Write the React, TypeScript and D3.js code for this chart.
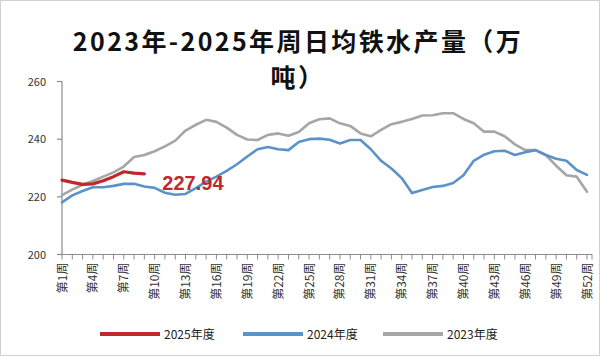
import React from "react";
import * as d3 from "d3";

const weeks: number[] = Array.from({ length: 52 }, (_, i) => i + 1);
const tickLabelWeeks = [1, 4, 7, 10, 13, 16, 19, 22, 25, 28, 31, 34, 37, 40, 43, 46, 49, 52];
const yTicks = [200, 220, 240, 260];

const series2025 = [225.8, 225.0, 224.3, 224.5, 225.6, 227.0, 228.7, 228.2, 227.94];
const series2024 = [
  218.1, 220.5, 222.0, 223.3, 223.3, 223.8, 224.5, 224.5, 223.6, 223.1,
  221.4, 220.7, 221.0, 223.0, 225.3, 227.0, 229.0, 231.3, 234.0, 236.5,
  237.3, 236.5, 236.2, 239.0, 240.0, 240.2, 239.8, 238.5, 239.7, 239.7,
  236.5, 232.5, 229.8, 226.5, 221.3, 222.4, 223.4, 223.8, 224.8, 227.5,
  232.5, 234.6, 235.8, 236.0, 234.5, 235.5, 236.2, 234.5, 233.2, 232.5,
  229.3, 227.6,
];
const series2023 = [
  220.6, 222.5, 224.2, 225.5, 227.0, 228.5, 230.5, 233.8, 234.5, 235.8,
  237.5, 239.5, 243.0, 245.0, 246.7, 246.0, 244.0, 241.5, 239.9, 239.7,
  241.5, 242.0, 241.2, 242.5, 245.5, 246.9, 247.2, 245.5, 244.6, 242.0,
  241.0, 243.2, 245.2, 246.0, 247.0, 248.2, 248.3, 249.0, 249.0, 247.0,
  245.5, 242.6, 242.6, 241.0, 238.2, 236.2, 236.2, 234.5, 230.8, 227.5,
  227.0, 221.8,
];
const seriesNames = ["2025年度", "2024年度", "2023年度"];
const seriesColors = ["#c0282d", "#5b93c9", "#a6a6a6"];
const lastLabel = "227.94";
const titleLines = ["2023年-2025年周日均铁水产量（万", "吨）"];

export default function App() {
  const W = 600, H = 356;
  const x = d3.scaleLinear().domain([1, 52]).range([62, 587]);
  const y = d3.scaleLinear().domain([200, 260]).range([254.5, 81.5]);
  const line = d3
    .line<number>()
    .x((_, i) => x(i + 1))
    .y((d) => y(d))
    .curve(d3.curveLinear);
  const all = [series2025, series2024, series2023];
  const axisColor = "#8c8c8c";
  const font = "'Noto Sans CJK SC', 'Noto Sans', sans-serif";
  const legendX = [100, 243, 383];

  return (
    <svg
      width={W}
      height={H}
      style={{ position: "absolute", left: 0, top: 0, background: "#fff" }}
      fontFamily={font}
    >
      <rect x={0.5} y={0.5} width={W - 1} height={H - 1} fill="#fff" stroke="#d0d0d0" />
      {titleLines.map((t, i) => (
        <text
          key={i}
          x={298}
          y={51 + i * 36}
          textAnchor="middle"
          fontSize={25}
          fontWeight={700}
          letterSpacing={2.4}
          fill="#111"
        >
          {t}
        </text>
      ))}
      {/* y axis */}
      <line x1={62} x2={62} y1={y(260)} y2={y(200)} stroke={axisColor} strokeWidth={1.2} />
      {yTicks.map((t) => (
        <g key={t}>
          <line x1={57} x2={62} y1={y(t)} y2={y(t)} stroke={axisColor} strokeWidth={1.2} />
          <text x={46} y={y(t) + 4} textAnchor="end" fontSize={11} fill="#333">
            {t}
          </text>
        </g>
      ))}
      {/* x axis */}
      <line x1={62} x2={592} y1={y(200)} y2={y(200)} stroke={axisColor} strokeWidth={1.2} />
      {weeks.map((w) => (
        <line
          key={w}
          x1={x(w)}
          x2={x(w)}
          y1={y(200)}
          y2={y(200) + 5}
          stroke={axisColor}
          strokeWidth={1}
        />
      ))}
      <line x1={592} x2={592} y1={y(200)} y2={y(200) + 5} stroke={axisColor} strokeWidth={1} />
      {tickLabelWeeks.map((w) => (
        <text
          key={w}
          transform={`translate(${x(w) + 4.5},${y(200) + 8}) rotate(-90)`}
          textAnchor="end"
          fontSize={12}
          fill="#333"
        >
          {`第${w}周`}
        </text>
      ))}
      {/* lines: draw 2023, 2024, then 2025 on top */}
      {[2, 1, 0].map((k) => (
        <path
          key={k}
          d={line(all[k]) || ""}
          fill="none"
          stroke={seriesColors[k]}
          strokeWidth={k === 0 ? 3.2 : 2.6}
          strokeLinejoin="round"
          strokeLinecap="round"
        />
      ))}
      <text
        x={x(series2025.length) + 18}
        y={y(series2025[series2025.length - 1]) + 16}
        fontSize={20}
        fontWeight={700}
        fill="#c0282d"
        fontFamily="'Liberation Sans', Arial, sans-serif"
      >
        {lastLabel}
      </text>
      {/* legend */}
      {seriesNames.map((n, i) => (
        <g key={n}>
          <line
            x1={legendX[i]}
            x2={legendX[i] + 60}
            y1={334}
            y2={334}
            stroke={seriesColors[i]}
            strokeWidth={4}
          />
          <text x={legendX[i] + 64} y={338.5} fontSize={12} fill="#222">
            {n}
          </text>
        </g>
      ))}
    </svg>
  );
}
